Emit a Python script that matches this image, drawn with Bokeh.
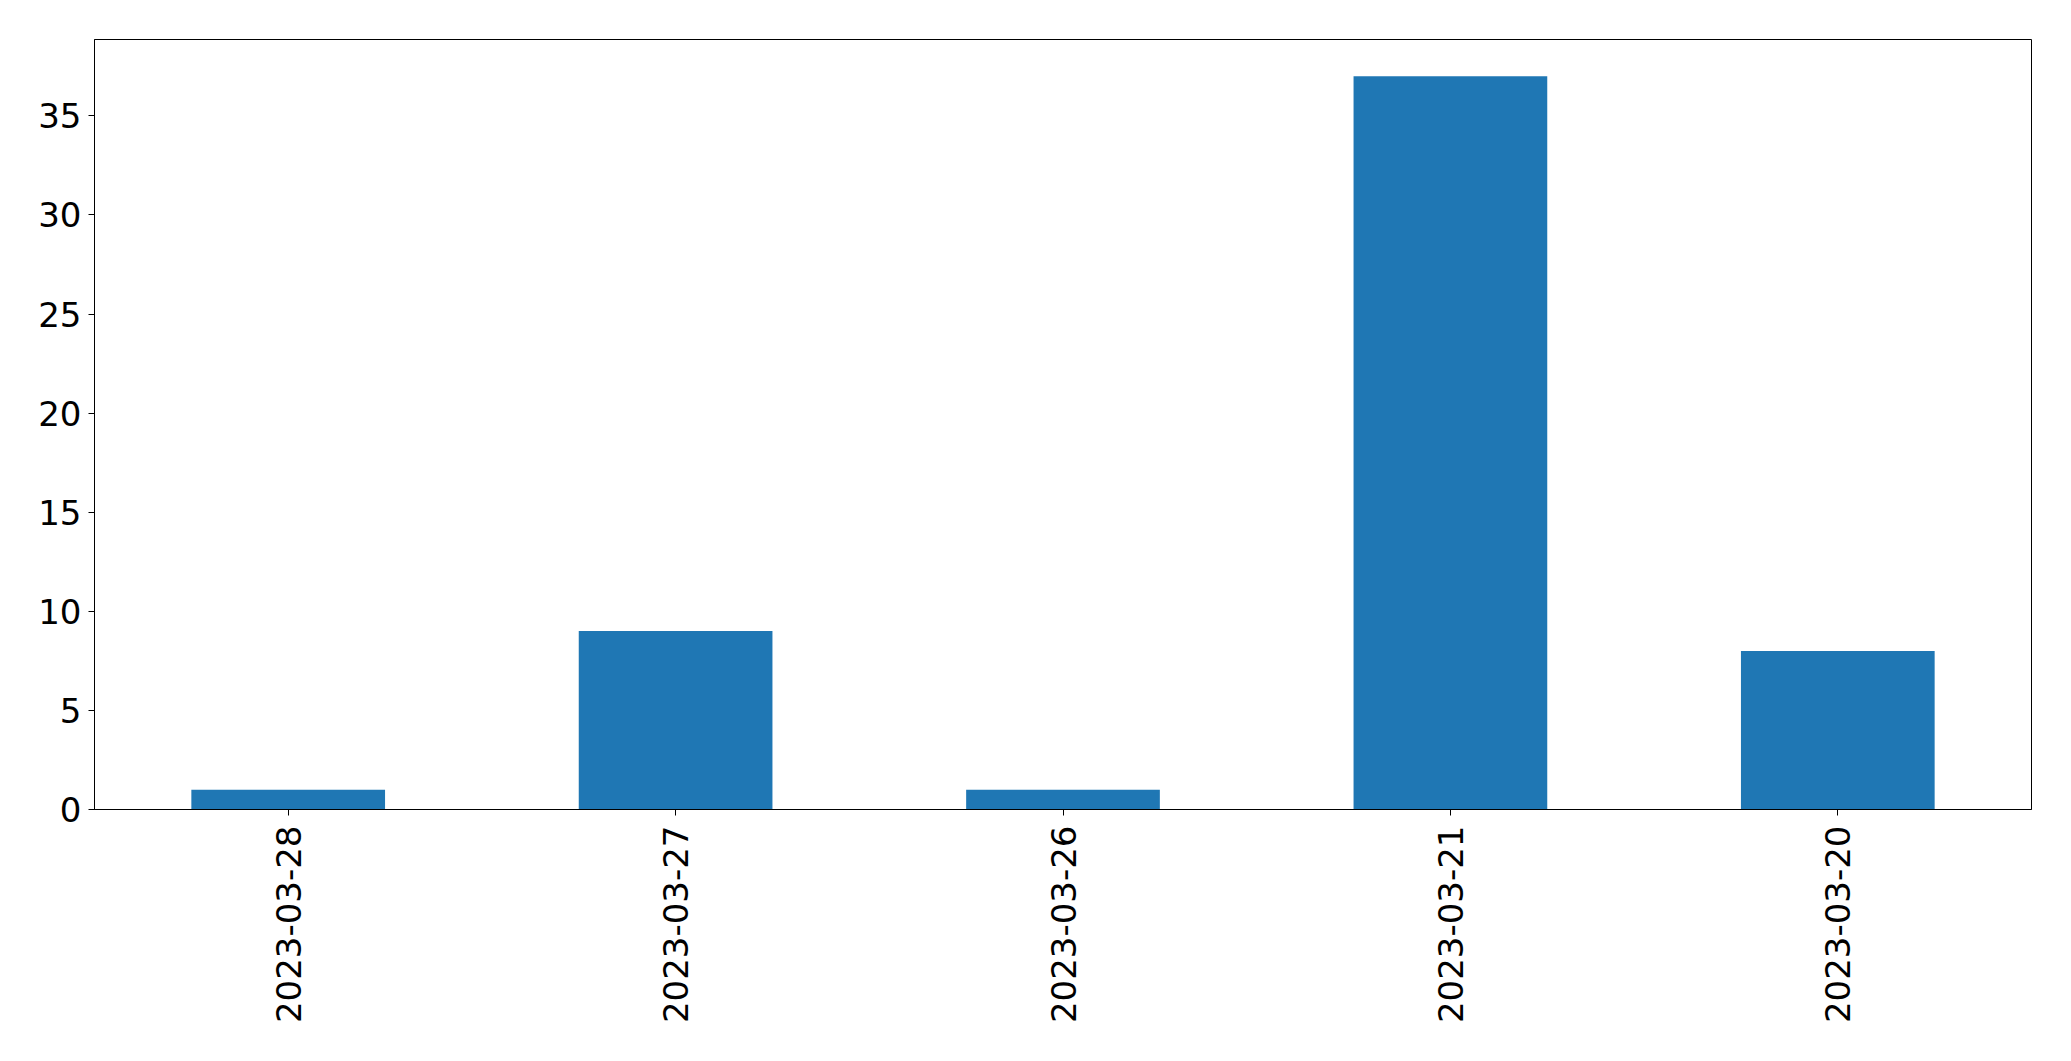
import math
from bokeh.plotting import figure
from bokeh.models import FactorRange, Range1d, FixedTicker
from bokeh.embed import file_html
from bokeh.resources import INLINE

dates = ["2023-03-28", "2023-03-27", "2023-03-26", "2023-03-21", "2023-03-20"]
counts = [1, 9, 1, 37, 8]
y_ticks = [0, 5, 10, 15, 20, 25, 30, 35]

p = figure(
    width=2055, height=1045,
    x_range=FactorRange(factors=dates, range_padding=0),
    y_range=Range1d(0, max(counts) * 1.05),
    output_backend="svg", toolbar_location=None,
    min_border_left=94, min_border_right=24, min_border_top=39, min_border_bottom=236,
)

p.vbar(x=dates, top=counts, width=0.5, fill_color="#1f77b4", line_color=None)

p.xgrid.visible = False
p.ygrid.visible = False
p.outline_line_color = "black"
p.outline_line_width = 1
p.outline_line_alpha = 1

p.yaxis.ticker = FixedTicker(ticks=y_ticks)
p.xaxis.major_label_orientation = math.pi / 2

for ax in (p.xaxis[0], p.yaxis[0]):
    ax.major_label_text_font = "DejaVu Sans"
    ax.major_label_text_font_size = "34px"
    ax.major_label_text_color = "black"
    ax.major_tick_out = 6
    ax.major_tick_in = 0
    ax.minor_tick_out = 0
    ax.minor_tick_in = 0
    ax.axis_line_color = "black"
    ax.major_tick_line_color = "black"
p.yaxis.major_label_standoff = 7
p.xaxis.major_label_standoff = 10

open("out.html", "w").write(file_html(p, INLINE))
